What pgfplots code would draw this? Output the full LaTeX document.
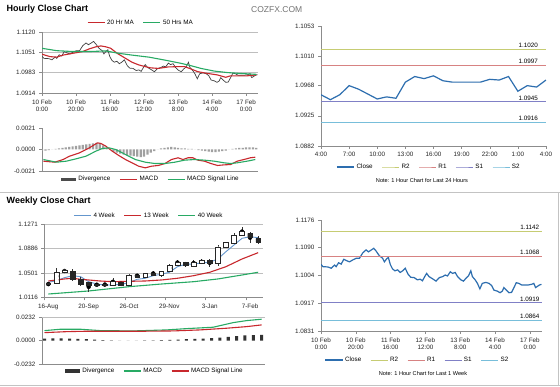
\documentclass[border=0pt]{standalone}
\usepackage{fontspec}
\setmainfont{Liberation Sans}
\usepackage{pgfplots}
\pgfplotsset{compat=1.18}
\usepackage{pgfplotstable}

\definecolor{axgray}{RGB}{140,140,140}
\definecolor{gridgray}{RGB}{190,190,190}
\definecolor{framegray}{RGB}{195,195,195}
\definecolor{mared}{RGB}{200,40,45}
\definecolor{magreen}{RGB}{40,170,100}
\definecolor{closeblue}{RGB}{45,110,175}
\definecolor{wkblue}{RGB}{100,150,205}
\definecolor{rtwo}{RGB}{198,204,115}
\definecolor{rone}{RGB}{215,130,130}
\definecolor{sone}{RGB}{128,128,198}
\definecolor{stwo}{RGB}{120,190,218}
\definecolor{divgray}{RGB}{160,160,160}

\newcommand{\tfont}{\fontsize{6.3}{7.2}\selectfont}
\newcommand{\nfont}{\fontsize{5.6}{6.5}\selectfont}

\pgfplotstableread{
h v
0 1.1038
1.1 1.1031
4 1.1030
5.9 1.1026
7.8 1.1036
8.7 1.1031
10.1 1.1043
11.6 1.1039
13.1 1.1054
14.5 1.1050
16.4 1.1046
18.3 1.1052
20.2 1.1057
22.1 1.1057
24 1.1074
25.9 1.1083
27.3 1.1077
28.4 1.1081
30.3 1.1088
31.6 1.1080
33.5 1.1065
35.4 1.1057
36.4 1.1046
37.7 1.1055
38.7 1.1060
39.8 1.1038
41.1 1.1024
42.5 1.1018
44 1.1021
45.5 1.1013
46.9 1.1018
48.4 1.1026
50.1 1.1007
51.6 1.0998
53.5 1.0997
55.4 1.0990
57 1.0992
58.3 1.0987
59.6 1.1000
60.7 1.1010
62.1 1.1000
64.2 1.0993
66.1 1.0986
68 1.0997
69.9 1.1000
71.4 1.1005
72.7 1.1002
74.3 1.1015
75.6 1.1010
77.1 1.1013
78.5 1.1000
80.4 1.0990
81.9 1.0986
83.3 1.0995
84.7 1.1002
86.1 1.1018
87 1.1000
88.6 1.0990
89.9 1.0979
91.3 1.0962
92.7 1.0979
94.7 1.0982
96.6 1.0979
98.1 1.0972
99.4 1.0958
101.3 1.0955
102.9 1.0950
104.2 1.0955
105.1 1.0966
106.5 1.0958
108 1.0950
109.5 1.0951
110.9 1.0966
112.2 1.0981
113.7 1.0979
115.3 1.0974
117.1 1.0974
119 1.0974
121 1.0976
122.3 1.0979
123.3 1.0966
124.2 1.0969
125.5 1.0974
126.7 1.0976
}\hourly

\pgfplotstableread{
h v
0 1.1045
4.6 1.1037
8.5 1.1035
12.4 1.1042
18.1 1.1048
23.9 1.1054
27.8 1.1063
31.7 1.1070
34.6 1.1073
37.5 1.1070
40.4 1.1065
44.2 1.1048
49.1 1.1031
52.9 1.1018
56.8 1.1009
60.7 1.1003
63.8 1.0999
68.4 1.0997
74.2 1.1002
80 1.1003
83.9 1.1003
87.7 1.0995
91.6 1.0986
97.4 1.0980
103.2 1.0975
108 1.0967
110.9 1.0972
116.7 1.0972
120.6 1.0972
126 1.0975
}\maA

\pgfplotstableread{
h v
0 1.1065
8.5 1.1057
18.1 1.1054
27.8 1.1054
37.5 1.1056
45.2 1.1048
52.9 1.1042
63 1.1035
72.3 1.1025
81.9 1.1014
87.7 1.1006
93.5 1.0997
101.3 1.0988
109 1.0983
116.7 1.0980
126 1.0977
}\maB

\pgfplotstableread{
h v
0.8 -0.00114
7.5 -0.00124
12.4 -0.00098
16.2 -0.00065
22 -0.00033
27.8 0.00016
32.6 0.00065
34.6 0.00059
37.5 0.00033
41.3 -0.00016
45.2 -0.00059
49.1 -0.00098
52.9 -0.00130
56.8 -0.00163
60.7 -0.00179
64.5 -0.00163
68.4 -0.00156
72.3 -0.00137
76.1 -0.00098
80 -0.00081
82.9 -0.00098
85.8 -0.00081
88.7 -0.00081
91.6 -0.00104
95.5 -0.00114
99.3 -0.00137
103.2 -0.00156
107.1 -0.00150
110.9 -0.00147
114.8 -0.00114
118.7 -0.00098
122.5 -0.00081
125.4 -0.00075
}\hmacd

\pgfplotstableread{
h v
0.8 -0.00098
8.5 -0.00124
14.3 -0.00114
20.1 -0.00091
25.9 -0.00065
31.7 -0.00016
35.5 0.00010
39.4 0.00016
43.3 0.00000
49.1 -0.00049
54.9 -0.00098
60.7 -0.00124
66.5 -0.00137
72.3 -0.00137
78.1 -0.00124
83.9 -0.00104
89.7 -0.00098
95.5 -0.00104
101.3 -0.00114
107.1 -0.00130
110.9 -0.00137
114.8 -0.00130
120.6 -0.00114
125.4 -0.00098
}\hsig

\pgfplotstableread{
h v
0 -0.0001
2 -0.0001
4 -0.00005
6 0
8 0.00005
10 0.0001
12 0.00015
14 0.0002
16 0.00025
18 0.0003
20 0.00035
22 0.0004
24 0.00045
26 0.0005
28 0.00055
30 0.0006
32 0.00065
34 0.0006
36 0.0004
38 0.0002
40 0
42 -0.0002
44 -0.0003
46 -0.0004
48 -0.0005
50 -0.00055
52 -0.0006
54 -0.00065
56 -0.0007
58 -0.00075
60 -0.0007
62 -0.0005
64 -0.0003
66 -0.00015
68 0
70 0.0001
72 0.00015
74 0.0002
76 0.00025
78 0.0002
80 0.00015
82 0.0001
84 0.0001
86 0.00005
88 0.00005
90 0
92 -0.00005
94 -0.0001
96 -0.00015
98 -0.0002
100 -0.00025
102 -0.00025
104 -0.0002
106 -0.00015
108 -0.0001
110 0
112 0.00005
114 0.0001
116 0.00015
118 0.00015
120 0.0002
122 0.0002
124 0.0002
126 0.00015
}\hdiv

\pgfplotstableread{
h v
0 1.0955
1 1.0948
2 1.0955
3 1.0968
4 1.0963
5 1.0956
6 1.0949
7 1.0952
8 1.0950
9 1.0973
10 1.0981
11 1.0978
12 1.0982
13 1.0975
14 1.0973
15 1.0973
16 1.0973
17 1.0973
18 1.0977
19 1.0976
20 1.0981
21 1.0960
22 1.0968
23 1.0966
24 1.0976
}\day

% weekly candles: i open high low close bodylow whiteh blackh
\pgfplotstableread{
i o h l c lo wh bh
0 1.0315 1.0345 1.0305 1.0337 1.0315 0.0022 0
1 1.0337 1.0575 1.0326 1.0511 1.0337 0.0174 0
2 1.0511 1.0560 1.0505 1.0548 1.0511 0.0037 0
3 1.0532 1.0560 1.0380 1.0401 1.0401 0 0.0131
4 1.0401 1.0430 1.0300 1.0326 1.0326 0 0.0075
5 1.0353 1.0360 1.0205 1.0311 1.0311 0 0.0042
6 1.0321 1.0340 1.0290 1.0310 1.0310 0 0.0011
7 1.0320 1.0335 1.0300 1.0312 1.0312 0 0.0008
8 1.0311 1.0420 1.0300 1.0363 1.0311 0.0052 0
9 1.0350 1.0365 1.0295 1.0311 1.0311 0 0.0039
10 1.0311 1.0480 1.0300 1.0469 1.0311 0.0158 0
11 1.0469 1.0485 1.0430 1.0437 1.0437 0 0.0032
12 1.0426 1.0505 1.0420 1.0496 1.0426 0.0070 0
13 1.0496 1.0525 1.0460 1.0469 1.0469 0 0.0027
14 1.0458 1.0540 1.0440 1.0532 1.0458 0.0074 0
15 1.0532 1.0635 1.0525 1.0627 1.0532 0.0095 0
16 1.0627 1.0710 1.0620 1.0669 1.0627 0.0042 0
17 1.0669 1.0680 1.0600 1.0616 1.0616 0 0.0053
18 1.0611 1.0710 1.0605 1.0664 1.0611 0.0053 0
19 1.0654 1.0715 1.0640 1.0706 1.0654 0.0052 0
20 1.0706 1.0725 1.0600 1.0654 1.0654 0 0.0052
21 1.0654 1.0940 1.0610 1.0916 1.0654 0.0262 0
22 1.0901 1.0995 1.0890 1.0986 1.0901 0.0085 0
23 1.0970 1.1130 1.0960 1.1091 1.0970 0.0121 0
24 1.1102 1.1230 1.1080 1.1154 1.1102 0.0052 0
25 1.1128 1.1150 1.0970 1.1059 1.1059 0 0.0069
26 1.1049 1.1090 1.0960 1.0986 1.0986 0 0.0063
}\candles

\pgfplotstableread{
i v
0 1.0353
1 1.0379
2 1.0426
3 1.0458
4 1.0442
5 1.0363
6 1.0326
7 1.0311
8 1.0311
9 1.0321
10 1.0347
11 1.0401
12 1.0417
13 1.0458
14 1.0480
15 1.0512
16 1.0600
17 1.0638
18 1.0643
19 1.0659
20 1.0670
21 1.0722
22 1.0837
23 1.0943
24 1.1049
25 1.1075
26 1.1059
}\wkA

\pgfplotstableread{
i v
0 1.0374
2 1.0406
3 1.0417
4 1.0401
5 1.0390
6.4 1.0374
8 1.0363
10 1.0369
12 1.0374
14 1.0390
16 1.0417
18 1.0458
20 1.0512
22 1.0600
24 1.0722
26 1.0822
}\wkB

\pgfplotstableread{
i v
0 1.0168
5 1.0216
10 1.0284
14 1.0326
18 1.0363
21 1.0406
24 1.0469
26 1.0512
}\wkC

\pgfplotstableread{
i v
0 0.00996
1.9 0.01135
4.3 0.01135
6.7 0.00996
10.6 0.00966
14.6 0.01066
17 0.01195
20.2 0.01335
22.6 0.01793
24.2 0.01992
26 0.02131
}\wmacd

\pgfplotstableread{
i v
0 0.00797
2.7 0.00896
5.1 0.00936
7.9 0.00936
11.8 0.00936
15.4 0.00966
18.6 0.01066
21.8 0.01235
24.2 0.01394
26 0.01564
}\wsig

\pgfplotstableread{
i v
0 0.0020
1 0.0022
2 0.0023
3 0.0020
4 0.0018
5 0.0014
6 0.0009
7 0.0005
8 0.0002
9 0.0001
10 0.0001
11 0.0001
12 0.0002
13 0.0003
14 0.0005
15 0.0008
16 0.0011
17 0.0014
18 0.0017
19 0.0020
20 0.0024
21 0.0030
22 0.0038
23 0.0046
24 0.0052
25 0.0056
26 0.0057
}\wdiv

\pgfplotsset{
  panel/.style={scale only axis, anchor=south west, axis lines*=left,
    axis line style={draw=axgray, line width=0.5pt},
    tick style={draw=axgray, line width=0.5pt},
    tick align=outside, major tick length=3pt,
    scaled y ticks=false, scaled x ticks=false,
    ticklabel style={font=\tfont, text=black!85},
    grid style={gridgray, line width=0.5pt},
    legend style={draw=none, fill=none, font=\tfont, inner sep=0pt,
      /tikz/every even column/.append style={column sep=7pt}},
    legend columns=-1, legend cell align=left},
  hourx/.style={xmin=0, xmax=127, xtick={0,20,...,120},
    xticklabels={{10 Feb\\0:00},{10 Feb\\20:00},{11 Feb\\16:00},{12 Feb\\12:00},{13 Feb\\8:00},{14 Feb\\4:00},{17 Feb\\0:00}},
    xticklabel style={align=center}},
  divlegend/.style={legend image code/.code={\fill[#1] (0pt,-1.6pt) rectangle (15pt,1.6pt);}}
}

\begin{document}
\begin{tikzpicture}[x=1pt,y=1pt]
\useasboundingbox (0,0) rectangle (560,386);
\fill[white] (0,0) rectangle (560,386);

% titles and frame
\node[anchor=west, font=\bfseries\fontsize{9}{10}\selectfont, inner sep=0pt] at (6.5,377) {Hourly Close Chart};
\node[anchor=west, font=\bfseries\fontsize{9}{10}\selectfont, inner sep=0pt] at (6.5,185) {Weekly Close Chart};
\node[anchor=west, font=\fontsize{8.5}{10}\selectfont, text=black!55, inner sep=0pt] at (251,376) {COZFX.COM};
\draw[framegray, line width=0.8pt] (0,194) -- (560,194);
\draw[framegray, line width=0.8pt] (0,1) -- (560,1);
\draw[framegray, line width=0.8pt] (558.5,1) -- (558.5,194);

% Panel 1: hourly close with MAs
\begin{axis}[panel, hourx, at={(42pt,293pt)}, width=216pt, height=61pt,
  ymin=1.0914, ymax=1.1120,
  ytick={1.0914,1.09827,1.10513,1.1120}, yticklabels={1.0914,1.0983,1.1051,1.1120},
  ymajorgrids, legend style={at={(0.458,1.15)}, anchor=center}]
\addplot[black!75, line width=0.7pt, forget plot] table[x=h,y=v] {\hourly};
\addplot[mared, line width=1.1pt] table[x=h,y=v] {\maA};
\addlegendentry{20 Hr MA}
\addplot[magreen, line width=1.1pt] table[x=h,y=v] {\maB};
\addlegendentry{50 Hrs MA}
\end{axis}

% Panel 2: hourly MACD
\begin{axis}[panel, at={(42pt,215pt)}, width=216pt, height=43pt,
  xmin=0, xmax=127, xtick=\empty, ymin=-0.0021, ymax=0.0021,
  ytick={-0.0021,0,0.0021}, yticklabels={-0.0021,0.0000,0.0021},
  legend style={at={(0.505,-0.19)}, anchor=center}]
\addplot[ybar, bar width=1.3, fill=divgray, draw=none, divlegend=black!70] table[x=h,y=v] {\hdiv};
\addlegendentry{Divergence}
\addplot[mared, line width=1.1pt] table[x=h,y=v] {\hmacd};
\addlegendentry{MACD}
\addplot[magreen, line width=1.1pt] table[x=h,y=v] {\hsig};
\addlegendentry{MACD Signal Line}
\end{axis}

% Panel 3: last 24 hours
\begin{axis}[panel, at={(321pt,240pt)}, width=225pt, height=120pt,
  xmin=0, xmax=24, xtick={0,3,...,24},
  xticklabels={4:00,7:00,10:00,13:00,16:00,19:00,22:00,1:00,4:00},
  ymin=1.0882, ymax=1.1053,
  ytick={1.0882,1.0925,1.0968,1.1010,1.1053}, yticklabels={1.0882,1.0925,1.0968,1.1010,1.1053},
  legend style={at={(0.48,-0.175)}, anchor=center}]
\addplot[closeblue, line width=1.2pt] table[x=h,y=v] {\day};
\addlegendentry{Close}
\addplot[rtwo, line width=0.8pt] coordinates {(0,1.1020) (24,1.1020)};
\addlegendentry{R2}
\addplot[rone, line width=0.8pt] coordinates {(0,1.0997) (24,1.0997)};
\addlegendentry{R1}
\addplot[sone, line width=0.8pt] coordinates {(0,1.0945) (24,1.0945)};
\addlegendentry{S1}
\addplot[stwo, line width=0.8pt] coordinates {(0,1.0916) (24,1.0916)};
\addlegendentry{S2}
\node[font=\tfont, anchor=south, inner sep=1.2pt] at (axis cs:22.1,1.1020) {1.1020};
\node[font=\tfont, anchor=south, inner sep=1.2pt] at (axis cs:22.1,1.0997) {1.0997};
\node[font=\tfont, anchor=south, inner sep=1.2pt] at (axis cs:22.1,1.0945) {1.0945};
\node[font=\tfont, anchor=south, inner sep=1.2pt] at (axis cs:22.1,1.0916) {1.0916};
\end{axis}
\node[font=\nfont] at (422,206) {Note: 1 Hour Chart for Last 24 Hours};

% Panel 4: weekly candles
\begin{axis}[panel, at={(44.3pt,88.7pt)}, width=218.7pt, height=73pt,
  xmin=-0.5, xmax=26.6, xtick={-0.5,4.5,...,24.5},
  xticklabels={16-Aug,20-Sep,26-Oct,29-Nov,3-Jan,7-Feb},
  xticklabel style={xshift=4pt},
  ymin=1.0116, ymax=1.1271,
  ytick={1.0116,1.0501,1.0886,1.1271}, yticklabels={1.0116,1.0501,1.0886,1.1271},
  ymajorgrids, legend style={at={(0.479,1.118)}, anchor=center}]
\addplot[wkblue, line width=0.9pt] table[x=i,y=v] {\wkA};
\addlegendentry{4 Week}
\addplot[mared, line width=1.1pt] table[x=i,y=v] {\wkB};
\addlegendentry{13 Week}
\addplot[magreen, line width=1.1pt] table[x=i,y=v] {\wkC};
\addlegendentry{40 Week}
\addplot[forget plot, only marks, mark=none,
  error bars/.cd, y dir=both, y explicit, error mark=none,
  error bar style={black!80, line width=0.5pt}]
  table[x=i, y expr={(\thisrow{h}+\thisrow{l})/2}, y error expr={(\thisrow{h}-\thisrow{l})/2}] {\candles};
\end{axis}
\begin{axis}[scale only axis, anchor=south west, at={(44.3pt,88.7pt)}, width=218.7pt, height=73pt,
  xmin=-0.5, xmax=26.6, ymin=1.0116, ymax=1.1271, hide axis,
  ybar stacked, bar width=0.58]
\addplot[draw=none, fill=none] table[x=i,y=lo] {\candles};
\addplot[fill=white, draw=black!85, line width=0.45pt] table[x=i,y=wh] {\candles};
\addplot[fill=black!85, draw=black!85, line width=0.45pt] table[x=i,y=bh] {\candles};
\end{axis}

% Panel 5: weekly MACD
\begin{axis}[panel, at={(42pt,22pt)}, width=223pt, height=46.7pt,
  xmin=-0.3, xmax=26.4, xtick=\empty, ymin=-0.0232, ymax=0.0232,
  ytick={-0.0232,0,0.0232}, yticklabels={-0.0232,0.0000,0.0232},
  legend style={at={(0.507,-0.15)}, anchor=center}]
\draw[gridgray, line width=0.5pt] (rel axis cs:0,1) -- (rel axis cs:1,1);
\addplot[ybar, bar width=0.36, fill=black!80, draw=none, divlegend=black!80] table[x=i,y=v] {\wdiv};
\addlegendentry{Divergence}
\addplot[magreen, line width=1.1pt] table[x=i,y=v] {\wmacd};
\addlegendentry{MACD}
\addplot[mared, line width=1.1pt] table[x=i,y=v] {\wsig};
\addlegendentry{MACD Signal Line}
\end{axis}

% Panel 6: hourly for last week
\begin{axis}[panel, hourx, at={(321pt,55pt)}, width=221pt, height=111pt,
  ymin=1.0831, ymax=1.1176,
  ytick={1.0831,1.091725,1.10035,1.108975,1.1176}, yticklabels={1.0831,1.0917,1.1004,1.1090,1.1176},
  legend style={at={(0.437,-0.262)}, anchor=center}]
\addplot[closeblue, line width=1.2pt] table[x=h,y=v] {\hourly};
\addlegendentry{Close}
\addplot[rtwo, line width=0.8pt] coordinates {(0,1.1142) (127,1.1142)};
\addlegendentry{R2}
\addplot[rone, line width=0.8pt] coordinates {(0,1.1063) (127,1.1063)};
\addlegendentry{R1}
\addplot[sone, line width=0.8pt] coordinates {(0,1.0919) (127,1.0919)};
\addlegendentry{S1}
\addplot[stwo, line width=0.8pt] coordinates {(0,1.0864) (127,1.0864)};
\addlegendentry{S2}
\node[font=\tfont, anchor=south, inner sep=1.2pt] at (axis cs:120,1.1142) {1.1142};
\node[font=\tfont, anchor=south, inner sep=1.2pt] at (axis cs:120,1.1063) {1.1068};
\node[font=\tfont, anchor=south, inner sep=1.2pt] at (axis cs:120,1.0919) {1.0919};
\node[font=\tfont, anchor=south, inner sep=1.2pt] at (axis cs:120,1.0864) {1.0864};
\end{axis}
\node[font=\nfont] at (423,13) {Note: 1 Hour Chart for  Last 1 Week};
\end{tikzpicture}
\end{document}
